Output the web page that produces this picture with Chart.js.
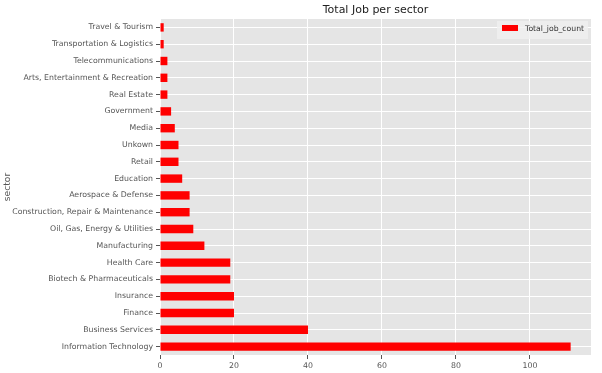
<!DOCTYPE html>
<html>
<head>
<meta charset="utf-8">
<script src="https://cdn.jsdelivr.net/npm/chart.js@4"></script>
<style>
  html, body { margin: 0; padding: 0; background: #ffffff; }
  #jobChart { display: block; }
</style>
</head>
<body>
<canvas id="jobChart" width="602" height="373"></canvas>
<script>
// values, in dataframe order (bottom bar first)
var sectors = [
    'Information Technology', 'Business Services', 'Finance', 'Insurance',
    'Biotech & Pharmaceuticals', 'Health Care', 'Manufacturing',
    'Oil, Gas, Energy & Utilities', 'Construction, Repair & Maintenance',
    'Aerospace & Defense', 'Education', 'Retail', 'Unkown', 'Media',
    'Government', 'Real Estate', 'Arts, Entertainment & Recreation',
    'Telecommunications', 'Transportation & Logistics', 'Travel & Tourism'
];
var jobCounts = [111, 40, 20, 20, 19, 19, 12, 9, 8, 8, 6, 5, 5, 4, 3, 2, 2, 2, 1, 1];
var xTicks = [0, 20, 40, 60, 80, 100];

var chartTitle = 'Total Job per sector';
var seriesName = 'Total_job_count';
var axisName = 'sector';

var FONT = 'DejaVu Sans';
var GREY = '#555555';

// grey panel behind the plot, like the ggplot style
var panelPlugin = {
    id: 'panel',
    beforeDraw: function(chart) {
        var ctx = chart.ctx, a = chart.chartArea;
        ctx.save();
        ctx.fillStyle = '#ffffff';
        ctx.fillRect(0, 0, chart.width, chart.height);
        ctx.fillStyle = '#e5e5e5';
        ctx.fillRect(a.left, a.top, a.right - a.left, a.bottom - a.top);
        ctx.restore();
    }
};

// title centred over the plot, legend box in the upper right
var textPlugin = {
    id: 'texts',
    afterDraw: function(chart) {
        var ctx = chart.ctx, a = chart.chartArea;
        ctx.save();
        ctx.fillStyle = '#222222';
        ctx.font = '11px "' + FONT + '"';
        ctx.textAlign = 'center';
        ctx.textBaseline = 'alphabetic';
        ctx.fillText(chartTitle, (a.left + a.right) / 2, 13);

        ctx.fillStyle = 'rgba(240, 240, 240, 0.8)';
        ctx.fillRect(a.right - 94, a.top + 2, 91, 18);
        ctx.fillStyle = '#ff0000';
        ctx.fillRect(a.right - 89, a.top + 6, 16, 6);
        ctx.fillStyle = '#333333';
        ctx.font = '7.7px "' + FONT + '"';
        ctx.textAlign = 'left';
        ctx.textBaseline = 'middle';
        ctx.fillText(seriesName, a.right - 66, a.top + 10);
        ctx.restore();
    }
};

var ctx = document.getElementById('jobChart').getContext('2d');
var chart = new Chart(ctx, {
    type: 'bar',
    data: {
        labels: sectors,
        datasets: [{
            label: seriesName,
            data: jobCounts,
            backgroundColor: '#ff0000',
            borderWidth: 0,
            categoryPercentage: 0.5,
            barPercentage: 1.0
        }]
    },
    options: {
        indexAxis: 'y',
        responsive: false,
        animation: false,
        devicePixelRatio: 1,
        layout: { padding: { top: 19, right: 11, left: 0, bottom: 0 } },
        plugins: {
            legend: { display: false },
            title: { display: false },
            tooltip: { enabled: false }
        },
        scales: {
            x: {
                type: 'linear',
                min: 0,
                max: 116.5,
                border: { display: false },
                grid: { color: '#ffffff', lineWidth: 1, tickColor: GREY, tickLength: 4 },
                afterBuildTicks: function(scale) {
                    scale.ticks = xTicks.map(function(v) { return { value: v }; });
                },
                afterFit: function(scale) { scale.height = 18; },
                ticks: {
                    color: GREY,
                    padding: 2,
                    maxRotation: 0,
                    font: { family: FONT, size: 7.8 }
                }
            },
            y: {
                type: 'category',
                reverse: true,
                offset: true,
                border: { display: false },
                grid: { offset: false, color: '#ffffff', lineWidth: 1, tickColor: GREY, tickLength: 4 },
                afterFit: function(scale) { scale.width = 160; },
                ticks: {
                    color: GREY,
                    padding: 3,
                    autoSkip: false,
                    font: { family: FONT, size: 7.8 }
                },
                title: {
                    display: true,
                    text: axisName,
                    color: GREY,
                    padding: { top: 2, bottom: 0 },
                    font: { family: FONT, size: 9.2 }
                }
            }
        }
    },
    plugins: [panelPlugin, textPlugin]
});
</script>
</body>
</html>
